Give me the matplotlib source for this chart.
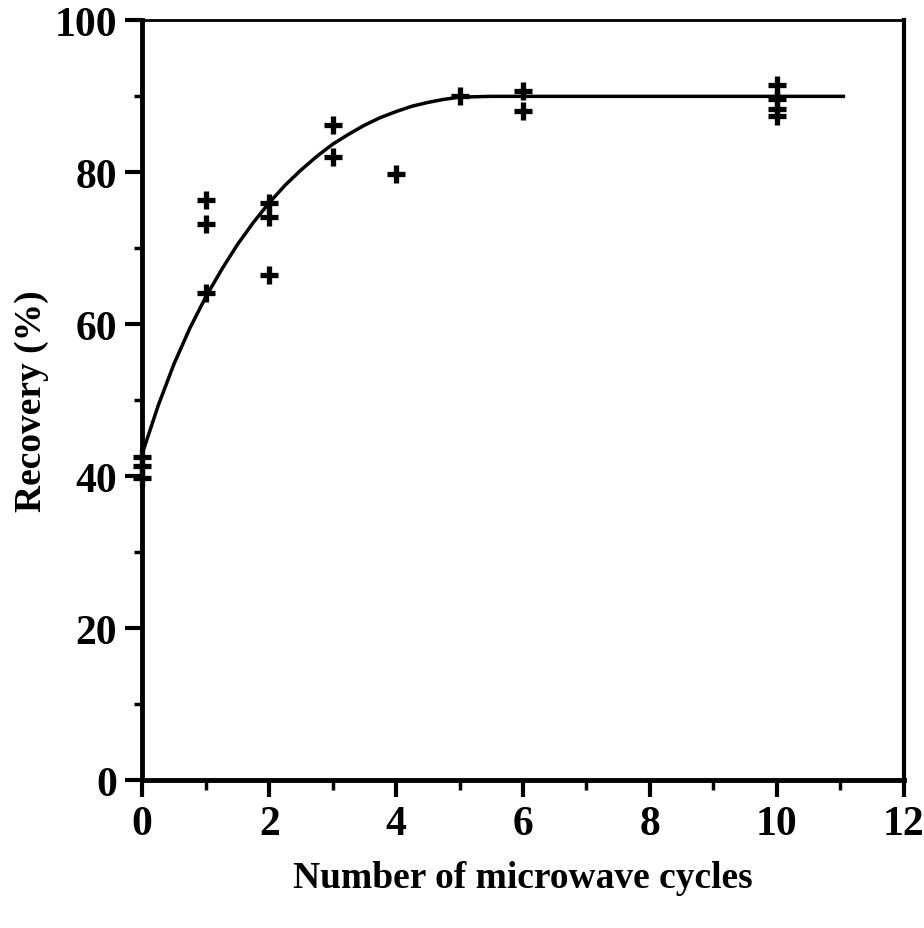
import numpy as np
import matplotlib
matplotlib.use("Agg")
import matplotlib.pyplot as plt
from matplotlib.ticker import MultipleLocator

cycles = [0, 0, 0, 1, 1, 1, 2, 2, 2, 3, 3, 4, 5, 6, 6, 10, 10, 10, 10]
recovery = [42.6, 41.4, 39.8, 76.4, 73.2, 64.1, 76.0, 74.1, 66.5,
            86.2, 82.0, 79.8, 90.0, 90.7, 88.1, 91.5, 89.7, 88.4, 87.4]

# hand drawn fitted curve
curve_x = [0, 0.25, 0.5, 0.75, 1.0, 1.25, 1.5, 1.75, 2.0, 2.25, 2.5, 2.75,
           3.0, 3.25, 3.5, 3.75, 4.0, 4.25, 4.5, 4.75, 5.0, 5.5, 11.05]
curve_y = [43.0, 49.3, 54.8, 59.5, 63.6, 67.2, 70.5, 73.4, 76.0, 78.3, 80.3, 82.1,
           83.7, 85.0, 86.2, 87.2, 88.0, 88.7, 89.2, 89.6, 89.9, 90.0, 90.0]

plt.rcParams['font.family'] = ['Liberation Serif', 'DejaVu Serif']
plt.rcParams['font.weight'] = 'bold'

fig = plt.figure(figsize=(9.24, 9.29), dpi=100)
ax = fig.add_axes([0.154, 0.159, 0.824, 0.818])

ax.plot(curve_x, curve_y, color='black', lw=2.5, zorder=2,
        solid_joinstyle='round')
ax.plot(cycles, recovery, linestyle='none', marker='+', color='black',
        markersize=13, markeredgewidth=3.8, zorder=3, clip_on=False)

ax.set_xlim(0, 12)
ax.set_ylim(0, 100)
ax.xaxis.set_major_locator(MultipleLocator(2))
ax.xaxis.set_minor_locator(MultipleLocator(1))
ax.yaxis.set_major_locator(MultipleLocator(20))
ax.yaxis.set_minor_locator(MultipleLocator(10))

ax.tick_params(which='major', direction='out', length=12, width=3,
               labelsize=30, pad=6)
ax.tick_params(which='minor', direction='out', length=7, width=2.5)
ax.tick_params(axis='y', which='minor', length=6)

ax.spines['left'].set_linewidth(3.5)
ax.spines['bottom'].set_linewidth(3.5)
ax.spines['right'].set_linewidth(3)
ax.spines['top'].set_linewidth(2)

ax.set_xlabel("Number of microwave cycles", fontsize=27, fontweight='bold',
              labelpad=12)
ax.set_ylabel("Recovery (%)", fontsize=27, fontweight='bold', labelpad=4)

fig.savefig("out.png", dpi=100)
